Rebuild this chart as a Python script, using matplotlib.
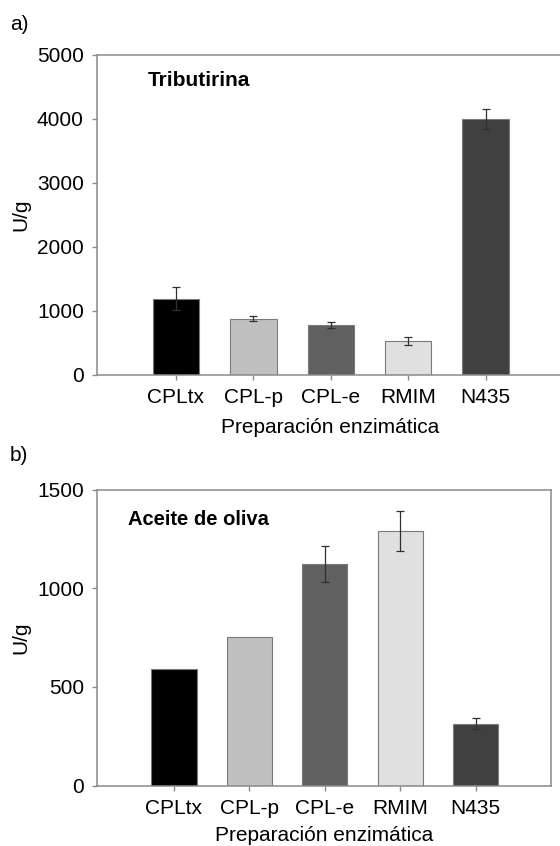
import matplotlib

matplotlib.use("Agg")
import matplotlib.pyplot as plt

plt.rcParams["font.family"] = ["Liberation Sans", "DejaVu Sans"]

categories = ["CPLtx", "CPL-p", "CPL-e", "RMIM", "N435"]
bar_colors = ["#000000", "#c0c0c0", "#606060", "#e0e0e0", "#404040"]

# a) tributirina
tributirina_values = [1190, 877, 782, 527, 4000]
tributirina_errors = [180, 39, 47, 62, 164]

# b) aceite de oliva (no error bar on the first two)
oliva_values = [592, 751, 1122, 1289, 314]
oliva_errors = [0, 0, 90, 100, 27]

FIG_W, FIG_H = 560, 846
GRAY = "#8a8a8a"


def px_axes(fig, left, top, right, bottom):
    return fig.add_axes([left / FIG_W, 1 - bottom / FIG_H,
                         (right - left) / FIG_W, (bottom - top) / FIG_H])


def draw_panel(ax, values, errors, ymax, yticks, label, xlabel_pad):
    xs = list(range(len(categories)))
    ax.bar(xs, values, width=0.6, color=bar_colors, edgecolor="#7a7a7a",
           linewidth=0.8, zorder=2)
    err_x = [x for x, e in zip(xs, errors) if e > 0]
    err_y = [v for v, e in zip(values, errors) if e > 0]
    err_e = [e for e in errors if e > 0]
    ax.errorbar(err_x, err_y, yerr=err_e, fmt="none", ecolor="#303030",
                elinewidth=0.9, capsize=3.2, capthick=0.9, zorder=3)
    ax.set_xlim(-1.02, 5.0)
    ax.set_ylim(0, ymax)
    ax.set_xticks(xs)
    ax.set_xticklabels(categories)
    ax.set_yticks(yticks)
    for sp in ax.spines.values():
        sp.set_color(GRAY)
        sp.set_linewidth(1.1)
    ax.tick_params(axis="both", colors=GRAY, labelcolor="black",
                   labelsize=15, length=3.5, width=1, direction="out")
    ax.tick_params(axis="y", pad=6)
    ax.tick_params(axis="x", pad=6)
    ax.set_xlabel("Preparación enzimática", fontsize=15, labelpad=xlabel_pad)
    ax.set_ylabel("U/g", fontsize=15, labelpad=5)
    ax.text(label[1], label[2], label[0], transform=ax.transAxes,
            fontsize=label[3], fontweight="bold", ha="left", va="center")


fig = plt.figure(figsize=(FIG_W / 100, FIG_H / 100), dpi=100)

ax1 = px_axes(fig, 97, 55, 563, 375)
draw_panel(ax1, tributirina_values, tributirina_errors, 5000,
           [0, 1000, 2000, 3000, 4000, 5000],
           ("Tributirina", (148 - 97) / 466, 1 - (80 - 55) / 320, 15), 8)

ax2 = px_axes(fig, 97, 489.5, 551, 785.5)
draw_panel(ax2, oliva_values, oliva_errors, 1500,
           [0, 500, 1000, 1500],
           ("Aceite de oliva", (128 - 97) / 454, 1 - (519 - 489.5) / 296, 14.5), 6)

fig.text(10 / FIG_W, 1 - 25 / FIG_H, "a)", fontsize=15, ha="left", va="center")
fig.text(10 / FIG_W, 1 - 455 / FIG_H, "b)", fontsize=15, ha="left", va="center")

fig.savefig("out.png", dpi=100)
